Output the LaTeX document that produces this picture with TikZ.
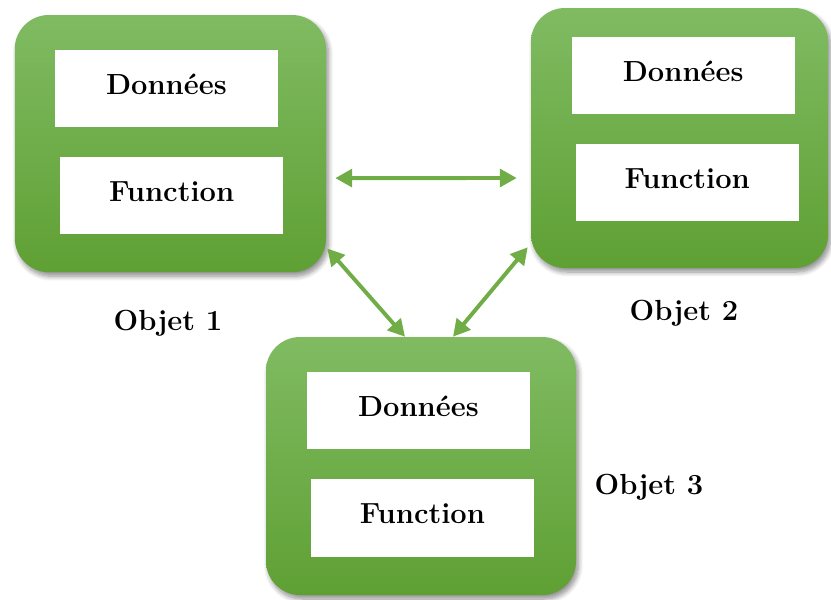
\documentclass[tikz,border=0pt]{standalone}
\usepackage{tikz}
\usetikzlibrary{arrows.meta,positioning,shadows.blur}
\definecolor{objgreen}{RGB}{112,173,71}
\definecolor{objtop}{RGB}{128,187,98}
\definecolor{objbot}{RGB}{95,160,52}

\begin{document}
\begin{tikzpicture}[
  obj/.style={rectangle,rounded corners=0.85cm,top color=objtop,bottom color=objbot,draw=none,inner sep=0pt,
    blur shadow={shadow xshift=0.06cm,shadow yshift=-0.1cm,shadow blur radius=0.12cm,shadow blur steps=8,shadow opacity=45}},
  part/.style={rectangle,fill=white,minimum width=5.58cm,minimum height=1.93cm,inner sep=0pt,text depth=0.2cm,
    font=\fontsize{20.7}{24}\selectfont\bfseries},
  lbl/.style={font=\fontsize{20.7}{24}\selectfont\bfseries,inner sep=0pt},
  link/.style={{Triangle[length=4.2mm,width=4.4mm]}-{Triangle[length=4.2mm,width=4.4mm]},line width=2.8pt,draw=objgreen}]
  \useasboundingbox (0,0) rectangle (20.775,-14.975);
  \foreach \k/\x/\y/\w/\h in {1/4.26/-3.59/7.78/6.43,2/16.99/-3.45/7.43/6.5,3/10.525/-11.65/7.75/6.45}
    \node[obj,minimum width=\w cm,minimum height=\h cm] (o\k) at (\x,\y) {};
  \foreach \k/\dx/\dy/\fx/\fy in {1/4.16/-2.21/4.29/-4.89,2/17.08/-1.89/17.18/-4.56,3/10.46/-10.26/10.56/-12.95} {
    \node[part] (d\k) at (\dx,\dy) {Donn\'ees};
    \node[part] (f\k) at (\fx,\fy) {Function};}
  \node[lbl] (l1) at (4.2,-8.075) {Objet 1};
  \node[lbl] (l2) at (17.1,-7.825) {Objet 2};
  \node[lbl] (l3) at (16.225,-12.175) {Objet 3};
  \draw[link] ([shift={(0.225,-0.8625)}]o1.east) -- ([shift={(-0.35,-1.0)}]o2.west);
  \draw[link] ([shift={(0.025,0.6)}]o1.south east) -- ([xshift=-0.4cm]o3.north);
  \draw[link] ([shift={(-0.075,0.525)}]o2.south west) -- ([xshift=0.8cm]o3.north);
\end{tikzpicture}
\end{document}
